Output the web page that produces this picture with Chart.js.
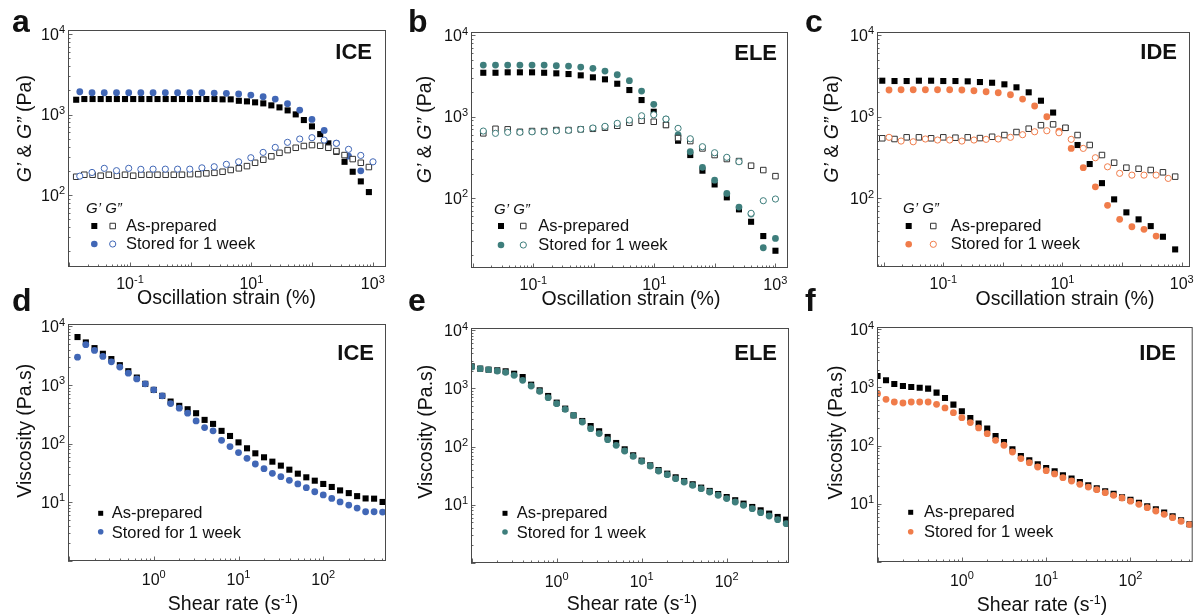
<!DOCTYPE html>
<html lang="en">
<head>
  <meta charset="UTF-8" />
  <title>Rheology of ICE / ELE / IDE</title>
  <script src="https://cdn.jsdelivr.net/npm/chart.js@4.4.0/dist/chart.umd.min.js"></script>
  <style>
    body { margin: 0; background: #fff; }
    #wrap { position: relative; width: 1197px; height: 615px; background: #fff; }
    #wrap canvas { position: absolute; left: 0; top: 0; }
  </style>
</head>
<body>
<div id="wrap"></div>
<script>
// ---- strain sweep x values (%) ----
const strainA = [0.013, 0.0177, 0.0242, 0.0329, 0.0448, 0.0608, 0.0828, 0.113, 0.154, 0.209, 0.284, 0.387,
  0.527, 0.718, 0.977, 1.33, 1.81, 2.46, 3.35, 4.56, 6.21, 8.45, 11.5, 15.7, 21.3, 29.0, 39.5, 53.7, 73.1,
  99.5, 136, 185, 251, 342, 466, 634, 861];
const strainB = [0.0149, 0.0237, 0.0377, 0.06, 0.0953, 0.151, 0.24, 0.382, 0.608, 0.966, 1.53, 2.44, 3.87,
  6.16, 9.79, 15.6, 24.7, 39.3, 62.5, 99.3, 158, 251, 398, 633, 1006];
const strainC1 = [0.00948, 0.0152, 0.0243, 0.039, 0.0625, 0.1, 0.16, 0.257, 0.412, 0.659, 1.06, 1.69, 2.71,
  4.35, 6.96, 11.2, 17.9, 28.6, 45.9, 73.5, 118, 189, 302, 484, 776];
const strainC2 = [0.0123, 0.0196, 0.0313, 0.0501, 0.0801, 0.128, 0.205, 0.327, 0.523, 0.836, 1.34, 2.14,
  3.41, 5.46, 8.73, 14.0, 22.3, 35.6, 57.0, 91.0, 146, 233, 372, 594];

// ---- shear rate x values (1/s) ----
const shear = [0.1, 0.126, 0.158, 0.2, 0.251, 0.316, 0.398, 0.501, 0.631, 0.794, 1, 1.26, 1.58, 2, 2.51,
  3.16, 3.98, 5.01, 6.31, 7.94, 10, 12.6, 15.8, 20, 25.1, 31.6, 39.8, 50.1, 63.1, 79.4, 100, 126, 158, 200,
  251, 316, 398, 501];

// ---- ICE moduli (Pa) ----
const iceGp = [1528, 1559, 1559, 1559, 1559, 1559, 1559, 1559, 1559, 1559, 1559, 1559, 1559, 1559, 1559,
  1559, 1559, 1559, 1545, 1545, 1483, 1458, 1418, 1377, 1301, 1228, 1127, 1005, 855, 713, 572, 439, 345,
  259, 195, 148, 109];
const iceGpp = [169, 179, 179, 174, 179, 174, 179, 174, 179, 179, 179, 179, 179, 179, 182, 182, 186, 189,
  195, 205, 215, 229, 252, 275, 303, 335, 362, 387, 407, 418, 410, 387, 352, 314, 280, 252, 223];
const iceGpW = [1919, 1866, 1866, 1866, 1866, 1866, 1866, 1866, 1866, 1866, 1866, 1849, 1834, 1799, 1747,
  1664, 1559, 1362, 1137, 871, 636, 442, 305, 200];
const iceGppW = [172, 191, 215, 201, 215, 209, 210, 210, 210, 210, 218, 225, 241, 259, 291, 339, 391, 452,
  497, 516, 482, 439, 370, 311, 259];

// ---- ELE moduli (Pa) ----
const eleGp = [3475, 3475, 3517, 3517, 3517, 3475, 3418, 3350, 3229, 3052, 2884, 2546, 2130, 1604, 1152,
  791, 507, 338, 217, 147, 102, 72.6, 51.1, 34.1, 22.5];
const eleGpp = [625, 711, 700, 653, 667, 667, 686, 686, 700, 711, 733, 775, 844, 893, 868, 791, 547, 502,
  408, 338, 302, 285, 250, 221, 186];
const eleGpW = [4325, 4325, 4325, 4325, 4325, 4325, 4238, 4204, 4087, 3939, 3648, 3286, 2774, 2071, 1422,
  937, 596, 371, 239, 166, 114, 77.5, 63.5, 24.5, 31.9];
const eleGppW = [667, 625, 643, 643, 653, 653, 672, 680, 700, 727, 762, 830, 911, 1028, 1058, 937, 720, 536,
  428, 361, 317, 280, 64.9, 92.7, 97.3];

// ---- IDE moduli (Pa) ----
const ideGp = [2760, 2736, 2736, 2760, 2760, 2736, 2736, 2713, 2659, 2607, 2493, 2291, 1990, 1571, 1125,
  728, 451, 264, 154, 97.5, 67.6, 55.5, 45.9, 34.0, 23.8];
const ideGpp = [545, 534, 560, 560, 545, 560, 554, 560, 548, 569, 597, 650, 714, 788, 807, 733, 597, 451,
  340, 274, 238, 231, 223, 209, 185];
const ideGpW = [2124, 2140, 2140, 2140, 2140, 2140, 2124, 2080, 2022, 1966, 1859, 1647, 1353, 1000, 668,
  410, 238, 139, 82.4, 55.5, 45.1, 41.9, 34.7];
const ideGppW = [560, 504, 494, 534, 519, 519, 504, 519, 529, 534, 560, 603, 655, 674, 637, 529, 410, 315,
  244, 203, 193, 193, 193, 176];

// ---- viscosity (Pa.s) ----
const iceVis = [6580, 5330, 4260, 3410, 2770, 2180, 1720, 1340, 1047, 826, 653, 522, 441, 386, 330, 254,
  217, 165, 135, 105, 83.2, 68.3, 58.4, 49.2, 42.1, 35.9, 30.7, 26.6, 23.3, 20.5, 18.2, 15.9, 14.3, 12.7,
  11.6, 11.5, 10.1];
const iceVisW = [2990, 4870, 3890, 3070, 2490, 2020, 1590, 1270, 1047, 826, 653, 483, 402, 330, 244, 188,
  165, 114, 88.9, 70.2, 56.1, 44.9, 37.4, 31.1, 27.3, 23.6, 20.5, 17.7, 15.1, 13.3, 11.6, 10.1, 8.95, 7.95,
  6.88, 6.88, 6.79];
const eleVis = [2400, 2190, 2100, 2050, 1970, 1790, 1570, 1160, 927, 741, 569, 449, 344, 275, 225, 183, 146,
  115, 89.5, 70.6, 57.2, 47.5, 39.4, 34.1, 29.5, 25.5, 22.4, 19.6, 17.2, 15.2, 13.5, 11.9, 10.4, 9.11, 7.98,
  7.0, 6.13, 5.51];
const eleVisW = [2340, 2190, 2100, 1995, 1890, 1680, 1377, 1101, 891, 693, 547, 437, 344, 264, 203, 167,
  131, 105, 83.8, 67.8, 55.6, 46.2, 37.9, 32.8, 28.0, 24.5, 21.5, 18.8, 16.5, 14.5, 12.7, 11.1, 9.72, 8.53,
  7.28, 6.37, 5.51, 4.70];
const ideVis = [1574, 1325, 1146, 1058, 1017, 990, 952, 813, 658, 505, 388, 298, 238, 195, 146, 115, 86.0,
  65.9, 55.6, 47.4, 41.0, 35.9, 30.7, 26.9, 23.6, 20.7, 18.3, 16.3, 14.7, 12.8, 11.6, 10.3, 8.99, 7.98, 7.0,
  6.05, 5.17, 4.41];
const ideVisW = [781, 624, 561, 539, 561, 561, 561, 512, 443, 368, 302, 248, 201, 160, 123, 101, 77.4, 59.5,
  50.7, 42.7, 36.9, 32.4, 28.0, 24.5, 21.5, 19.3, 17.4, 15.4, 13.9, 12.5, 11.0, 9.73, 8.53, 7.47, 6.55, 5.74,
  4.97, 4.35];

const W = 1197, H = 615;
const FAMILY = '"Liberation Sans", Arial, Helvetica, sans-serif';
const blue = '#4167b6', teal = '#3e7e7c', orange = '#f07c4a';

const strainTitle = [{ t: 'Oscillation strain (%)', s: 19.5 }];
const shearTitle = [{ t: 'Shear rate (s', s: 19.5 }, { t: '-1', s: 12.5, dy: -7.5 }, { t: ')', s: 19.5 }];
const modTitle = [{ t: 'G’', s: 19.5, i: true }, { t: ' & ', s: 19.5 }, { t: 'G”', s: 19.5, i: true }, { t: ' (Pa)', s: 19.5 }];
const visTitle = [{ t: 'Viscosity (Pa.s)', s: 19.5 }];

const panels = [
  { letter: 'a', lx: 12, ly: 31.5, sample: 'ICE', sx: 372, sy: 59, area: [68, 386, 30, 267],
    xr: [0.00953, 1648], yr: [12.8, 11220], xt: [-1, 1, 3], yt: [2, 3, 4], xOff: 22.2,
    xTitle: strainTitle, xtx: 226.5, xty: 304, yTitle: modTitle, ytx: 31, yty: 128.7,
    leg: { hx: 86, hy: 213, m: [94.3, 112.7], tx: 126, ry: [226, 244], ty: [231, 249.3] },
    color: blue,
    series: [[strainA, iceGp, 'fs'], [strainA, iceGpp, 'os'], [strainB, iceGpW, 'fc'], [strainB, iceGppW, 'oc']] },
  { letter: 'b', lx: 408, ly: 31.5, sample: 'ELE', sx: 777, sy: 60, area: [471, 788, 32, 268],
    xr: [0.00933, 1622], yr: [13.8, 11020], xt: [-1, 1, 3], yt: [2, 3, 4], xOff: 22.2,
    xTitle: strainTitle, xtx: 631, xty: 305, yTitle: modTitle, ytx: 431, yty: 129.5,
    leg: { hx: 494, hy: 214, m: [501, 523.3], tx: 538.3, ry: [226, 245], ty: [231, 250] },
    color: teal,
    series: [[strainB, eleGp, 'fs'], [strainB, eleGpp, 'os'], [strainB, eleGpW, 'fc'], [strainB, eleGppW, 'oc']] },
  { letter: 'c', lx: 805, ly: 31.5, sample: 'IDE', sx: 1177, sy: 59, area: [877, 1190, 32, 267],
    xr: [0.00773, 1377], yr: [14.5, 10890], xt: [-1, 1, 3], yt: [2, 3, 4], xOff: 22.2,
    xTitle: strainTitle, xtx: 1065, xty: 305, yTitle: modTitle, ytx: 838, yty: 129,
    leg: { hx: 903, hy: 213, m: [908.7, 933.3], tx: 950.7, ry: [226, 244.3], ty: [231, 249.3] },
    color: orange,
    series: [[strainC1, ideGp, 'fs'], [strainC1, ideGpp, 'os'], [strainC2, ideGpW, 'fc'], [strainC2, ideGppW, 'oc']] },
  { letter: 'd', lx: 12, ly: 311, sample: 'ICE', sx: 374, sy: 360, area: [68, 386, 324, 561],
    xr: [0.0973, 550], yr: [0.993, 10990], xt: [0, 1, 2], yt: [1, 2, 3, 4], xOff: 23.7,
    xTitle: shearTitle, xtx: 233, xty: 610, yTitle: visTitle, ytx: 31, yty: 430.7,
    leg: { m: [100.7], tx: 111.7, ry: [513.3, 531.7], ty: [517.8, 537.8], small: true },
    color: blue,
    series: [[shear.slice(1), iceVis, 'fs'], [shear.slice(1), iceVisW, 'fc']] },
  { letter: 'e', lx: 408, ly: 311, sample: 'ELE', sx: 777, sy: 360, area: [471, 789, 328, 563],
    xr: [0.0982, 541], yr: [0.989, 10960], xt: [0, 1, 2], yt: [1, 2, 3, 4], xOff: 23.7,
    xTitle: shearTitle, xtx: 632, xty: 610, yTitle: visTitle, ytx: 431.5, yty: 431.7,
    leg: { m: [505], tx: 516.7, ry: [513.3, 532], ty: [517.8, 538] },
    color: teal,
    series: [[shear, eleVis, 'fs'], [shear, eleVisW, 'fc']] },
  { letter: 'f', lx: 805, ly: 311, sample: 'IDE', sx: 1176, sy: 360, area: [877, 1195, 327, 562],
    xr: [0.0985, 547], yr: [0.989, 10960], xt: [0, 1, 2], yt: [1, 2, 3, 4], xOff: 23.7,
    xTitle: shearTitle, xtx: 1042, xty: 611, yTitle: visTitle, ytx: 841.5, yty: 432.5,
    leg: { m: [910.7], tx: 924, ry: [512.3, 531.7], ty: [517, 537.3] },
    color: orange,
    series: [[shear, ideVis, 'fs'], [shear, ideVisW, 'fc']] },
];

function fontOf(p) {
  return (p.i ? 'italic ' : '') + (p.b ? 'bold ' : '') + p.s + 'px ' + FAMILY;
}

function rich(ctx, parts, x, y, align) {
  let w = 0;
  const ws = parts.map(p => { ctx.font = fontOf(p); const m = ctx.measureText(p.t).width; w += m; return m; });
  let cx = align === 'right' ? x - w : align === 'center' ? x - w / 2 : x;
  parts.forEach((p, k) => {
    ctx.font = fontOf(p);
    ctx.fillText(p.t, cx, y + (p.dy || 0));
    cx += ws[k];
  });
}

function tickLabel(e) {
  return [{ t: '10', s: 16 }, { t: String(e), s: 11, dy: -6.5 }];
}

function logTicks(min, max) {
  const out = [];
  for (let e = Math.floor(Math.log10(min)); e <= Math.ceil(Math.log10(max)); e++) {
    for (let m = 1; m <= 9; m++) {
      const v = m * Math.pow(10, e);
      if (v > min && v < max) out.push([v, m === 1]);
    }
  }
  return out;
}

function marker(ctx, kind, color, x, y, size) {
  ctx.beginPath();
  if (kind[1] === 's') {
    const h = size / 2;
    ctx.rect(x - h, y - h, size, size);
  } else {
    ctx.arc(x, y, size / 2, 0, Math.PI * 2);
  }
  if (kind[0] === 'f') {
    ctx.fillStyle = color;
    ctx.fill();
  } else {
    ctx.fillStyle = '#fff';
    ctx.fill();
    ctx.strokeStyle = color;
    ctx.lineWidth = 1;
    ctx.stroke();
  }
}

function decor(p) {
  return {
    id: 'decor',
    afterDraw(chart) {
      const ctx = chart.ctx;
      const xs = chart.scales.x, ys = chart.scales.y;
      const { left, right, top, bottom } = chart.chartArea;
      ctx.save();
      ctx.textAlign = 'left';
      ctx.textBaseline = 'alphabetic';

      // inward log ticks on left and bottom
      ctx.strokeStyle = '#666';
      ctx.lineWidth = 1;
      ctx.beginPath();
      logTicks(xs.min, xs.max).forEach(([v, major]) => {
        const px = Math.round(xs.getPixelForValue(v)) + 0.5;
        ctx.moveTo(px, bottom);
        ctx.lineTo(px, bottom - (major ? 4.5 : 2.5));
      });
      logTicks(ys.min, ys.max).forEach(([v, major]) => {
        const py = Math.round(ys.getPixelForValue(v)) + 0.5;
        ctx.moveTo(left, py);
        ctx.lineTo(left + (major ? 4.5 : 2.5), py);
      });
      ctx.stroke();

      // frame
      ctx.strokeStyle = '#4a4a4a';
      ctx.strokeRect(left + 0.5, top + 0.5, right - left - 1, bottom - top - 1);

      ctx.fillStyle = '#111';
      // tick labels
      p.xt.forEach(e => rich(ctx, tickLabel(e), xs.getPixelForValue(Math.pow(10, e)), bottom + p.xOff, 'center'));
      p.yt.forEach(e => rich(ctx, tickLabel(e), left - 3, ys.getPixelForValue(Math.pow(10, e)) + 5.7, 'right'));

      // axis titles
      rich(ctx, p.xTitle, p.xtx, p.xty, 'center');
      ctx.save();
      ctx.translate(p.ytx, p.yty);
      ctx.rotate(-Math.PI / 2);
      rich(ctx, p.yTitle, 0, 0, 'center');
      ctx.restore();

      // panel letter and sample name
      rich(ctx, [{ t: p.letter, s: 32, b: true }], p.lx, p.ly, 'left');
      rich(ctx, [{ t: p.sample, s: 22, b: true }], p.sx, p.sy, 'right');

      // legend
      const L = p.leg;
      if (L.hx !== undefined) {
        ctx.fillStyle = '#111';
        rich(ctx, [{ t: 'G’ G”', s: 15, i: true }], L.hx, L.hy, 'left');
        marker(ctx, 'fs', '#000', L.m[0], L.ry[0], 6);
        marker(ctx, 'os', '#333', L.m[1], L.ry[0], 5.5);
        marker(ctx, 'fc', p.color, L.m[0], L.ry[1], 6.6);
        marker(ctx, 'oc', p.color, L.m[1], L.ry[1], 6.2);
      } else {
        marker(ctx, 'fs', '#000', L.m[0], L.ry[0], 5);
        marker(ctx, 'fc', p.color, L.m[0], L.ry[1], 5.6);
      }
      ctx.fillStyle = '#111';
      rich(ctx, [{ t: 'As-prepared', s: 16.5 }], L.tx, L.ty[0], 'left');
      rich(ctx, [{ t: 'Stored for 1 week', s: 16.5 }], L.tx, L.ty[1], 'left');
      ctx.restore();
    }
  };
}

const STYLE = {
  fs: { pointStyle: 'rect', r: 4.3, order: 3 },
  os: { pointStyle: 'rect', r: 3.9, order: 1 },
  fc: { pointStyle: 'circle', r: 3.4, order: 2 },
  oc: { pointStyle: 'circle', r: 3.1, order: 0 },
};

const wrap = document.getElementById('wrap');
panels.forEach(p => {
  const cv = document.createElement('canvas');
  cv.width = W;
  cv.height = H;
  wrap.appendChild(cv);

  const datasets = p.series.map(([xv, yv, kind]) => {
    const st = STYLE[kind];
    const filled = kind[0] === 'f';
    const col = kind[1] === 's' ? (filled ? '#000' : '#333') : p.color;
    return {
      data: yv.map((y, i) => ({ x: xv[i], y: y })),
      showLine: false,
      pointStyle: st.pointStyle,
      pointRadius: st.r,
      pointBackgroundColor: filled ? col : '#fff',
      pointBorderColor: col,
      pointBorderWidth: filled ? 0 : 1,
      order: st.order,
    };
  });

  new Chart(cv, {
    type: 'scatter',
    data: { datasets },
    options: {
      responsive: false,
      animation: false,
      events: [],
      layout: { padding: { left: p.area[0], right: W - p.area[1], top: p.area[2], bottom: H - p.area[3] } },
      scales: {
        x: { type: 'logarithmic', display: false, min: p.xr[0], max: p.xr[1] },
        y: { type: 'logarithmic', display: false, min: p.yr[0], max: p.yr[1] },
      },
      plugins: { legend: { display: false }, tooltip: { enabled: false } },
    },
    plugins: [decor(p)],
  });
});
</script>
</body>
</html>
